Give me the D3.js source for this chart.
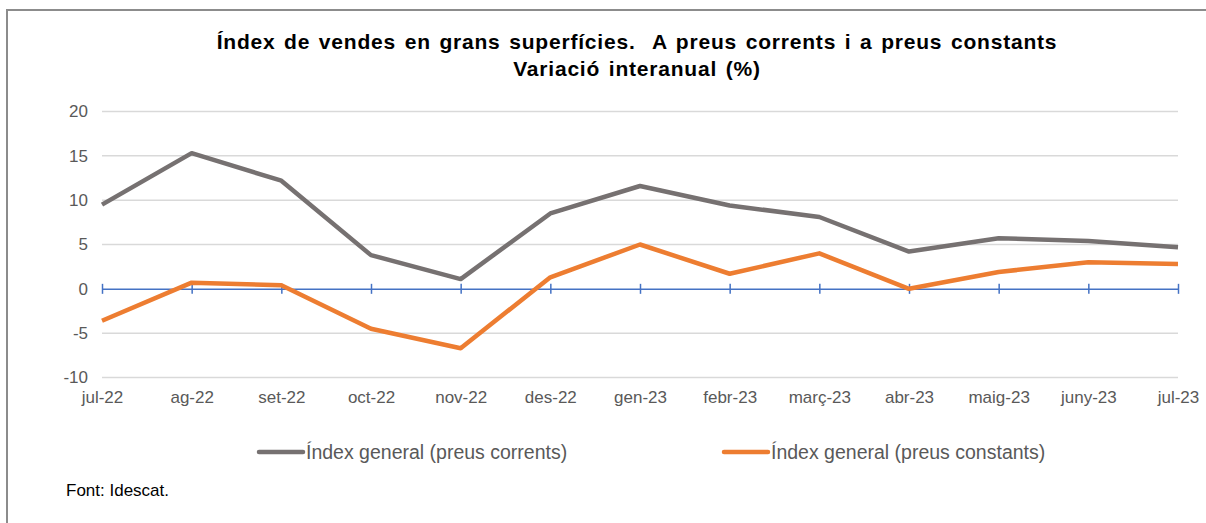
<!DOCTYPE html>
<html>
<head>
<meta charset="utf-8">
<script src="https://cdn.jsdelivr.net/npm/d3@7"></script>
<style>
  body { margin: 0; background: #ffffff; }
  svg { display: block; font-family: "Liberation Sans", Arial, sans-serif; }
</style>
</head>
<body>
<div id="chart"></div>
<script>
// Data
const months = ["jul-22", "ag-22", "set-22", "oct-22", "nov-22", "des-22", "gen-23",
    "febr-23", "març-23", "abr-23", "maig-23", "juny-23", "jul-23"];
const corrents = [9.5, 15.3, 12.2, 3.8, 1.1, 8.5, 11.6, 9.4, 8.1, 4.2, 5.7, 5.4, 4.7];
const constants = [-3.6, 0.7, 0.4, -4.5, -6.7, 1.3, 5.0, 1.7, 4.0, 0.0, 1.9, 3.0, 2.8];
const yTicks = [-10, -5, 0, 5, 10, 15, 20];
const seriesNames = ["Índex general (preus corrents)", "Índex general (preus constants)"];
const titleLines = ["Índex de vendes en grans superfícies.  A preus corrents i a preus constants",
    "Variació interanual (%)"];

const width = 1206;
const height = 523;
const colors = ["#767171", "#ED7D31"];

const svg = d3.select("#chart")
    .append("svg")
    .attr("width", width)
    .attr("height", height);

// Frame (left and top edges only)
svg.append("path")
    .attr("d", `M7,${height} L7,10 L${width},10`)
    .attr("fill", "none")
    .attr("stroke", "#8c8c8c")
    .attr("stroke-width", 2);

// Title
svg.append("g")
    .selectAll("text")
    .data(titleLines)
    .enter()
    .append("text")
    .attr("x", 637)
    .attr("y", (d, i) => 49 + i * 27)
    .attr("text-anchor", "middle")
    .attr("font-size", "21px")
    .attr("font-weight", "bold")
    .attr("letter-spacing", "0.8px")
    .attr("word-spacing", "2px")
    .attr("fill", "#000000")
    .style("white-space", "pre")
    .text(d => d);

// Scales
const x = d3.scalePoint()
    .domain(months)
    .range([102, 1178]);

const y = d3.scaleLinear()
    .domain([-10, 20])
    .range([377.5, 111.5]);

// Gridlines
svg.append("g")
    .selectAll("line")
    .data(yTicks.filter(d => d !== 0))
    .enter()
    .append("line")
    .attr("x1", 102)
    .attr("x2", 1178)
    .attr("y1", d => y(d))
    .attr("y2", d => y(d))
    .attr("stroke", "#d9d9d9")
    .attr("stroke-width", 1.5);

// Y axis labels (plain hyphen for negatives)
const yAxis = svg.append("g")
    .attr("transform", "translate(102,0)")
    .call(d3.axisLeft(y).tickValues(yTicks).tickSize(0).tickPadding(14).tickFormat(d => String(d)));
yAxis.select(".domain").remove();
yAxis.selectAll("text")
    .attr("font-size", "17px")
    .attr("font-family", "Liberation Sans, Arial, sans-serif")
    .attr("fill", "#595959");

// Zero axis with ticks
const zeroAxis = svg.append("g")
    .attr("transform", `translate(0,${y(0)})`)
    .call(d3.axisBottom(x).tickSize(6).tickSizeOuter(0).tickFormat(""));
zeroAxis.select(".domain")
    .attr("stroke", "#4472C4")
    .attr("stroke-width", 1.5);
zeroAxis.selectAll(".tick line")
    .attr("stroke", "#4472C4")
    .attr("stroke-width", 1.5)
    .attr("y1", -5)
    .attr("y2", 5);

// X labels at the bottom
const xAxis = svg.append("g")
    .attr("transform", `translate(0,${y(-10)})`)
    .call(d3.axisBottom(x).tickSize(0).tickPadding(13));
xAxis.select(".domain").remove();
xAxis.selectAll("text")
    .attr("font-size", "17px")
    .attr("font-family", "Liberation Sans, Arial, sans-serif")
    .attr("fill", "#595959");

// Lines
const line = d3.line()
    .x((d, i) => x(months[i]))
    .y(d => y(d));

svg.append("g")
    .selectAll("path")
    .data([corrents, constants])
    .enter()
    .append("path")
    .attr("d", d => line(d))
    .attr("fill", "none")
    .attr("stroke", (d, i) => colors[i])
    .attr("stroke-width", 4.5)
    .attr("stroke-linejoin", "round");

// Legend
const legendX = [259, 724];
const legend = svg.append("g")
    .selectAll("g")
    .data(seriesNames)
    .enter()
    .append("g")
    .attr("transform", (d, i) => `translate(${legendX[i]},452)`);

legend.append("line")
    .attr("x1", 0)
    .attr("x2", 44)
    .attr("stroke", (d, i) => colors[i])
    .attr("stroke-width", 4.5)
    .attr("stroke-linecap", "round");

legend.append("text")
    .attr("x", 47)
    .attr("y", 7)
    .attr("font-size", "19.5px")
    .attr("fill", "#595959")
    .text(d => d);

// Source
svg.append("text")
    .attr("x", 66)
    .attr("y", 496)
    .attr("font-size", "17px")
    .attr("fill", "#000000")
    .text("Font: Idescat.");
</script>
</body>
</html>
